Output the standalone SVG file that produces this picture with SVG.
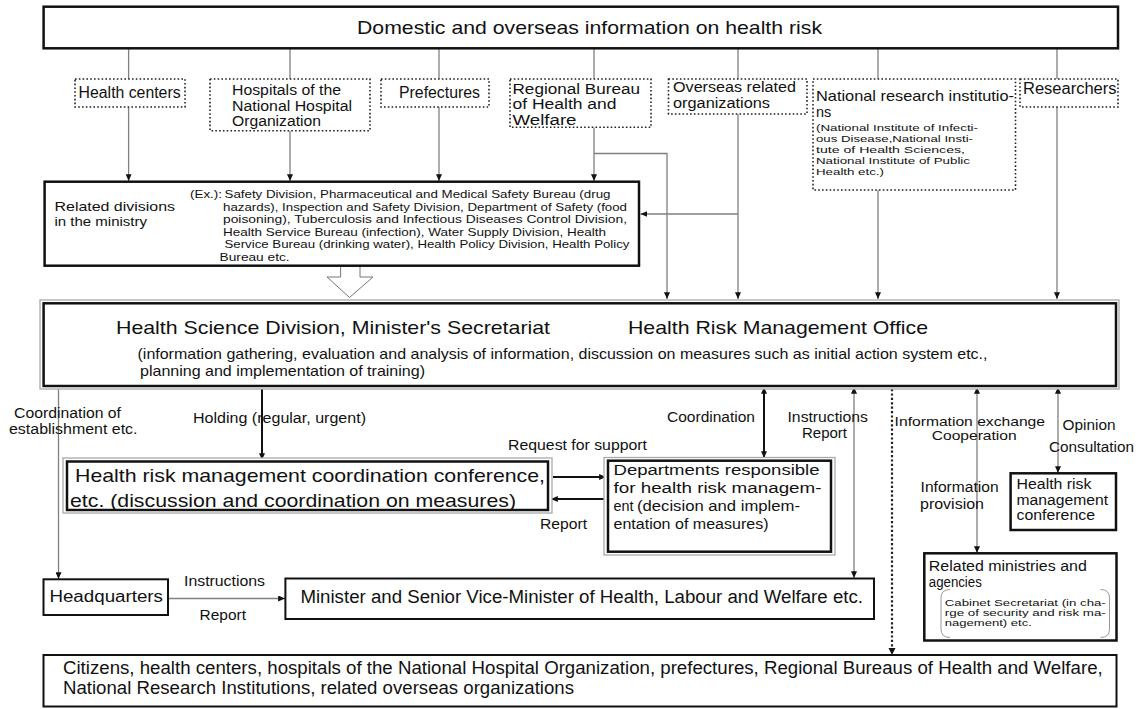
<svg xmlns="http://www.w3.org/2000/svg" width="1143" height="709" viewBox="0 0 1143 709">
<style>
text{font-family:"Liberation Sans",Arial,Helvetica,sans-serif;fill:#111}
.bx{fill:#fff;stroke:#111;stroke-width:2.5}
.bx2{fill:#fff;stroke:#111;stroke-width:2}
.og{fill:#fff;stroke:#aaa;stroke-width:1.3}
.dt{fill:#fff;stroke:#222;stroke-width:1.6;stroke-dasharray:1.6 2.2}
.g{fill:none;stroke:#808080;stroke-width:1.3}
.k{fill:none;stroke:#111;stroke-width:2}
.dl{fill:none;stroke:#222;stroke-width:2.2;stroke-dasharray:2.2 2.2}
.f16{font-size:16px}
.f14b{font-size:14px}
.f15{font-size:15px}
.f14{font-size:14px}
.f11{font-size:11px}
</style>
<defs>
<marker id="ah" viewBox="0 0 8 7" refX="8" refY="3.5" markerWidth="7" markerHeight="6" markerUnits="userSpaceOnUse" orient="auto-start-reverse"><path d="M0,0 L8,3.5 L0,7 z" fill="#111"/></marker>
</defs>

<g id="connectors">
<line class="g" x1="128.6" y1="49" x2="128.6" y2="79"/>
<line class="g" x1="290" y1="49" x2="290" y2="79"/>
<line class="g" x1="439" y1="49" x2="439" y2="79"/>
<line class="g" x1="594" y1="49" x2="594" y2="79"/>
<line class="g" x1="738" y1="49" x2="738" y2="79"/>
<line class="g" x1="878" y1="49" x2="878" y2="79"/>
<line class="g" x1="1057" y1="49" x2="1057" y2="79"/>
<line class="g" x1="128.6" y1="107" x2="128.6" y2="181" marker-end="url(#ah)"/>
<line class="g" x1="290" y1="131" x2="290" y2="181" marker-end="url(#ah)"/>
<line class="g" x1="439" y1="107" x2="439" y2="181" marker-end="url(#ah)"/>
<line class="g" x1="594" y1="127.5" x2="594" y2="181" marker-end="url(#ah)"/>
<polyline class="g" points="594,153.5 667,153.5 667,299" marker-end="url(#ah)"/>
<line class="g" x1="738" y1="114" x2="738" y2="299" marker-end="url(#ah)"/>
<line class="g" x1="738" y1="214" x2="640.5" y2="214" marker-end="url(#ah)"/>
<line class="g" x1="878" y1="190" x2="878" y2="299" marker-end="url(#ah)"/>
<line class="g" x1="1057" y1="107" x2="1057" y2="299" marker-end="url(#ah)"/>
<polygon points="340.6,266.5 360,266.5 360,277 373,277 349.5,297.5 327,277 340.6,277" fill="#fff" stroke="#777" stroke-width="1"/>
<line class="g" x1="58.5" y1="389" x2="58.5" y2="579" marker-end="url(#ah)"/>
<line class="k" x1="262" y1="389" x2="262" y2="460" marker-end="url(#ah)"/>
<line class="k" x1="764" y1="387" x2="764" y2="458" marker-start="url(#ah)" marker-end="url(#ah)"/>
<line class="g" x1="854" y1="387" x2="854" y2="578" marker-start="url(#ah)" marker-end="url(#ah)"/>
<line class="dl" x1="892" y1="389" x2="892" y2="649"/>
<path d="M888.5,648 L892,655 L895.5,648 z" fill="#111"/>
<line class="g" x1="977" y1="387" x2="977" y2="553" marker-start="url(#ah)" marker-end="url(#ah)"/>
<line class="g" x1="1058" y1="387" x2="1058" y2="473" marker-start="url(#ah)" marker-end="url(#ah)"/>
<line class="k" x1="553" y1="477" x2="606" y2="477" marker-end="url(#ah)"/>
<line class="k" x1="606" y1="499" x2="551" y2="499" marker-end="url(#ah)"/>
<line class="g" x1="168" y1="598.5" x2="285" y2="598.5" marker-end="url(#ah)"/>
</g>

<g id="top-info">
<rect class="bx" x="43.6" y="6.7" width="1074.4" height="41.6"/>
<text x="357" y="34" style="font-size:19px" textLength="465" lengthAdjust="spacingAndGlyphs">Domestic and overseas information on health risk</text>
</g>

<g id="health-centers">
<rect class="dt" x="75" y="79" width="110" height="28"/>
<text class="f16" x="78.6" y="97.5" textLength="102" lengthAdjust="spacingAndGlyphs">Health centers</text>
</g>
<g id="hospitals">
<rect class="dt" x="210" y="79" width="160" height="51.7"/>
<text class="f14b" x="232" y="95" textLength="109" lengthAdjust="spacingAndGlyphs">Hospitals of the</text>
<text class="f14b" x="232" y="110.7" textLength="120" lengthAdjust="spacingAndGlyphs">National Hospital</text>
<text class="f14b" x="232" y="126.4" textLength="89" lengthAdjust="spacingAndGlyphs">Organization</text>
</g>
<g id="prefectures">
<rect class="dt" x="381" y="79" width="108" height="28"/>
<text class="f16" x="399" y="97.5" textLength="81" lengthAdjust="spacingAndGlyphs">Prefectures</text>
</g>
<g id="regional-bureau">
<rect class="dt" x="510" y="79" width="141" height="48.3"/>
<text class="f14b" x="512.5" y="93.5" textLength="127.5" lengthAdjust="spacingAndGlyphs">Regional Bureau</text>
<text class="f14b" x="512.5" y="109.2" textLength="104" lengthAdjust="spacingAndGlyphs">of Health and</text>
<text class="f14b" x="512.5" y="124.9" textLength="64" lengthAdjust="spacingAndGlyphs">Welfare</text>
</g>
<g id="overseas-orgs">
<rect class="dt" x="668.5" y="79" width="138.5" height="35"/>
<text class="f14b" x="673" y="92" textLength="123" lengthAdjust="spacingAndGlyphs">Overseas related</text>
<text class="f14b" x="673" y="107.7" textLength="97" lengthAdjust="spacingAndGlyphs">organizations</text>
</g>
<g id="national-research">
<rect class="dt" x="813" y="79" width="202.5" height="111"/>
<text style="font-size:14.5px" x="816" y="100.5" textLength="198" lengthAdjust="spacingAndGlyphs">National research institutio-</text>
<text style="font-size:14.5px" x="816" y="117">ns</text>
<text style="font-size:9.8px" x="816" y="131" textLength="162" lengthAdjust="spacingAndGlyphs">(National Institute of Infecti-</text>
<text style="font-size:9.8px" x="816" y="142" textLength="157" lengthAdjust="spacingAndGlyphs">ous Disease,National Insti-</text>
<text style="font-size:9.8px" x="816" y="153" textLength="149" lengthAdjust="spacingAndGlyphs">tute of  Health Sciences,</text>
<text style="font-size:9.8px" x="816" y="164" textLength="154" lengthAdjust="spacingAndGlyphs">National Institute of Public</text>
<text style="font-size:9.8px" x="816" y="175" textLength="68" lengthAdjust="spacingAndGlyphs">Health etc.)</text>
</g>
<g id="researchers">
<rect class="dt" x="1020" y="79" width="98" height="28"/>
<text class="f16" x="1023" y="93.5" textLength="93.5" lengthAdjust="spacingAndGlyphs">Researchers</text>
</g>

<g id="related-divisions">
<rect class="bx" x="44.6" y="181.7" width="594.4" height="84"/>
<text style="font-size:13.4px" x="54.5" y="211" textLength="120.5" lengthAdjust="spacingAndGlyphs">Related divisions</text>
<text style="font-size:13.4px" x="54.5" y="226" textLength="92.5" lengthAdjust="spacingAndGlyphs">in the ministry</text>
<text class="f11" x="190" y="198" textLength="32" lengthAdjust="spacingAndGlyphs">(Ex.):</text>
<text class="f11" x="224.5" y="198" textLength="386" lengthAdjust="spacingAndGlyphs">Safety Division, Pharmaceutical and Medical Safety Bureau (drug</text>
<text class="f11" x="223" y="210.6" textLength="404" lengthAdjust="spacingAndGlyphs">hazards), Inspection and Safety Division, Department of Safety (food</text>
<text class="f11" x="223" y="223.2" textLength="404" lengthAdjust="spacingAndGlyphs">poisoning),  Tuberculosis and Infectious Diseases Control Division,</text>
<text class="f11" x="223" y="235.8" textLength="383" lengthAdjust="spacingAndGlyphs">Health Service Bureau (infection),  Water Supply Division, Health</text>
<text class="f11" x="224.5" y="248.4" textLength="405" lengthAdjust="spacingAndGlyphs">Service Bureau (drinking water), Health Policy Division, Health Policy</text>
<text class="f11" x="219.6" y="261" textLength="70" lengthAdjust="spacingAndGlyphs">Bureau  etc.</text>
</g>

<g id="health-science-division">
<rect class="og" x="40" y="300" width="1079" height="89"/>
<rect class="bx" x="43.6" y="303.3" width="1072.4" height="82.7"/>
<text x="116" y="333.5" style="font-size:18.5px" textLength="434" lengthAdjust="spacingAndGlyphs">Health Science Division, Minister's Secretariat</text>
<text x="628" y="333.5" style="font-size:18.5px" textLength="300" lengthAdjust="spacingAndGlyphs">Health Risk Management Office</text>
<text class="f15" x="137.5" y="359" textLength="850" lengthAdjust="spacingAndGlyphs">(information gathering, evaluation and analysis of information, discussion on measures such as initial action system etc.,</text>
<text class="f15" x="140" y="376" textLength="285" lengthAdjust="spacingAndGlyphs">planning and implementation of training)</text>
</g>

<g id="labels">
<text class="f14" x="14" y="417.5" textLength="107" lengthAdjust="spacingAndGlyphs">Coordination of</text>
<text class="f14" x="9" y="434" textLength="128.5" lengthAdjust="spacingAndGlyphs">establishment etc.</text>
<text class="f14" x="193" y="423" textLength="173" lengthAdjust="spacingAndGlyphs">Holding (regular, urgent)</text>
<text class="f14" x="508" y="450" textLength="139" lengthAdjust="spacingAndGlyphs">Request for support</text>
<text class="f14" x="540" y="529" textLength="47" lengthAdjust="spacingAndGlyphs">Report</text>
<text class="f14" x="667" y="422" textLength="88" lengthAdjust="spacingAndGlyphs">Coordination</text>
<text class="f14" x="787.5" y="422" textLength="80.5" lengthAdjust="spacingAndGlyphs">Instructions</text>
<text class="f14" x="802" y="438" textLength="45" lengthAdjust="spacingAndGlyphs">Report</text>
<text style="font-size:13px" x="894.6" y="425.5" textLength="150.4" lengthAdjust="spacingAndGlyphs">Information exchange</text>
<text style="font-size:13px" x="931.7" y="440.2" textLength="85" lengthAdjust="spacingAndGlyphs">Cooperation</text>
<text class="f14" x="1062.6" y="430" textLength="53" lengthAdjust="spacingAndGlyphs">Opinion</text>
<text class="f14" x="1049" y="452" textLength="85" lengthAdjust="spacingAndGlyphs">Consultation</text>
<text class="f14" x="920.6" y="492" textLength="78" lengthAdjust="spacingAndGlyphs">Information</text>
<text class="f14" x="920" y="509" textLength="64" lengthAdjust="spacingAndGlyphs">provision</text>
<text class="f14" x="184" y="585.5" textLength="81" lengthAdjust="spacingAndGlyphs">Instructions</text>
<text class="f14" x="199.6" y="620" textLength="46.4" lengthAdjust="spacingAndGlyphs">Report</text>
</g>

<g id="coordination-conference">
<rect class="og" x="63" y="458" width="489" height="55"/>
<rect class="bx" x="67" y="461.5" width="481" height="48.5"/>
<text x="75" y="481.5" style="font-size:19px" textLength="470" lengthAdjust="spacingAndGlyphs">Health risk management coordination conference,</text>
<text x="70" y="507" style="font-size:19px" textLength="446" lengthAdjust="spacingAndGlyphs">etc. (discussion and coordination on measures)</text>
</g>

<g id="departments">
<rect class="og" x="604" y="457.5" width="231" height="97.5"/>
<rect class="bx" x="608" y="460.7" width="223" height="91"/>
<text x="613.5" y="475" style="font-size:15.5px" textLength="206" lengthAdjust="spacingAndGlyphs">Departments responsible</text>
<text x="613.5" y="492.5" style="font-size:15.5px" textLength="208" lengthAdjust="spacingAndGlyphs">for health risk managem-</text>
<text x="613.5" y="510.5" style="font-size:15.5px" textLength="20" lengthAdjust="spacingAndGlyphs">ent</text>
<text x="637" y="510.5" style="font-size:14px" textLength="163" lengthAdjust="spacingAndGlyphs">(decision and implem-</text>
<text x="613.5" y="528.5" style="font-size:14px" textLength="155" lengthAdjust="spacingAndGlyphs">entation of measures)</text>
</g>

<g id="hrm-conference">
<rect class="bx" x="1010.6" y="473.3" width="105.4" height="56.7"/>
<text style="font-size:13.8px" x="1016.5" y="489" textLength="75" lengthAdjust="spacingAndGlyphs">Health risk</text>
<text style="font-size:13.8px" x="1016.5" y="504.5" textLength="91.5" lengthAdjust="spacingAndGlyphs">management</text>
<text style="font-size:13.8px" x="1016.5" y="520" textLength="78.5" lengthAdjust="spacingAndGlyphs">conference</text>
</g>

<g id="related-ministries">
<rect class="bx" x="924.3" y="553.3" width="192.2" height="87.2"/>
<text style="font-size:13.8px" x="928.8" y="571" textLength="158" lengthAdjust="spacingAndGlyphs">Related ministries and</text>
<text style="font-size:13.8px" x="928.8" y="586.5" textLength="53" lengthAdjust="spacingAndGlyphs">agencies</text>
<path class="g" style="stroke:#999;stroke-width:1" d="M950,589.5 Q941,589.5 941,598 L941,629 Q941,637.5 950,637.5"/>
<path class="g" style="stroke:#999;stroke-width:1" d="M1100.5,589.5 Q1109.5,589.5 1109.5,598 L1109.5,629 Q1109.5,637.5 1100.5,637.5"/>
<text style="font-size:8.8px" x="944.8" y="606" textLength="161" lengthAdjust="spacingAndGlyphs">Cabinet Secretariat (in cha-</text>
<text style="font-size:8.8px" x="944.8" y="616" textLength="161" lengthAdjust="spacingAndGlyphs">rge of security and risk ma-</text>
<text style="font-size:8.8px" x="944.8" y="626" textLength="87" lengthAdjust="spacingAndGlyphs">nagement) etc.</text>
</g>

<g id="headquarters">
<rect class="bx2" x="43.5" y="579.3" width="124.5" height="35.7"/>
<text class="f16" x="49.4" y="602" textLength="113.6" lengthAdjust="spacingAndGlyphs">Headquarters</text>
</g>

<g id="minister">
<rect class="bx2" x="285.4" y="578.5" width="588.6" height="40.5"/>
<text x="300.4" y="602.5" style="font-size:18px" textLength="562.6" lengthAdjust="spacingAndGlyphs">Minister and Senior Vice-Minister of Health, Labour and Welfare etc.</text>
</g>

<g id="citizens">
<rect class="bx2" x="43.5" y="655" width="1073" height="51.5"/>
<text x="63" y="673.5" style="font-size:17.5px" textLength="1039.7" lengthAdjust="spacingAndGlyphs">Citizens, health centers, hospitals of the National Hospital Organization, prefectures, Regional Bureaus of Health and Welfare,</text>
<text x="63" y="693.5" style="font-size:17.5px" textLength="511" lengthAdjust="spacingAndGlyphs">National Research Institutions, related overseas organizations</text>
</g>
</svg>
